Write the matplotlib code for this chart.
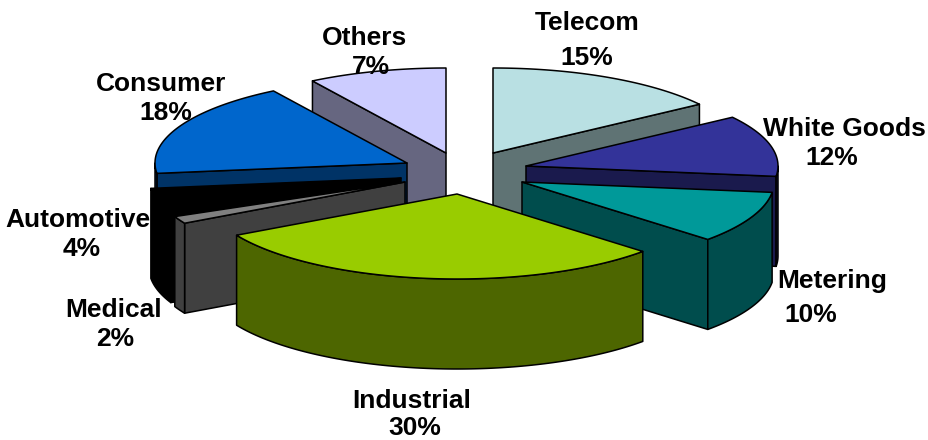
import numpy as np
import matplotlib
matplotlib.use('Agg')
import matplotlib.pyplot as plt

plt.rcParams['font.family'] = ['Liberation Sans', 'DejaVu Sans']

# slices clockwise from 12 o'clock
names = ['Telecom', 'White Goods', 'Metering', 'Industrial', 'Medical', 'Automotive', 'Consumer', 'Others']
pct_labels = ['15%', '12%', '10%', '30%', '2%', '4%', '18%', '7%']
# share of the circle as drawn (read from the slice angles, not the printed labels)
shares = [15.28, 11.67, 9.86, 30.14, 1.39, 4.72, 18.06, 8.89]

top_colors = ['#B9E0E3', '#333399', '#009999', '#99CC00', '#808080', '#000000', '#0066CC', '#CCCCFF']
side_colors = ['#5F7374', '#1A1A4D', '#004D4D', '#4D6600', '#404040', '#000000', '#003366', '#666680']

# pie geometry in pixels
center = (460, 165)
rx, ry = 252, 85
depth = 90
explode_x = [33, 66, 62, -3, -55, -59, -53, -14]
explode_y = [-12, 1, 17, 29, 17, 13, -2, -12]
draw_order = [0, 7, 6, 1, 5, 4, 2, 3]

# label centres
name_pos = [(587, 23), (844, 129), (832, 281), (412, 401), (114, 310), (78, 220), (161, 84), (365, 38)]
pct_pos = [(587, 58), (832, 158), (811, 315), (415, 428), (115, 339), (82, 249), (166, 113), (371, 67)]

fig = plt.figure(figsize=(9.29, 4.40), dpi=100)
ax = fig.add_axes([0, 0, 1, 1])
ax.set_xlim(0, 929)
ax.set_ylim(440, 0)
ax.axis('off')

edges = np.concatenate([[0], np.cumsum(shares)]) / np.sum(shares) * 360


def rim(ox, oy, a0, a1):
    t = np.radians(np.linspace(a0, a1, max(int(a1 - a0) * 2, 2) + 1))
    return ox + rx * np.sin(t), oy - ry * np.cos(t)


def draw_poly(x, y, color):
    ax.fill(x, y, facecolor=color, edgecolor='black', linewidth=1.1, joinstyle='round')


for i in draw_order:
    ox = center[0] + explode_x[i]
    oy = center[1] + explode_y[i]
    a0, a1 = edges[i], edges[i + 1]

    # cut faces that look toward the viewer
    for a, show in ((a0, 180 < a0 < 360), (a1, 0 < a1 < 180)):
        if show:
            ex, ey = rim(ox, oy, a, a + 1)
            ex, ey = ex[0], ey[0]
            draw_poly([ox, ex, ex, ox], [oy, ey, ey + depth, oy + depth], side_colors[i])

    # outer wall, only the front half shows
    lo, hi = max(a0, 90), min(a1, 270)
    if lo < hi:
        wx, wy = rim(ox, oy, lo, hi)
        draw_poly(np.r_[wx, wx[::-1]], np.r_[wy, wy[::-1] + depth], side_colors[i])

    tx, ty = rim(ox, oy, a0, a1)
    draw_poly(np.r_[ox, tx], np.r_[oy, ty], top_colors[i])

for i in range(len(names)):
    ax.text(name_pos[i][0], name_pos[i][1], names[i], fontsize=19, fontweight='bold',
            ha='center', va='center', color='black')
    ax.text(pct_pos[i][0], pct_pos[i][1], pct_labels[i], fontsize=19, fontweight='bold',
            ha='center', va='center', color='black')

fig.savefig('out.png', dpi=100)
